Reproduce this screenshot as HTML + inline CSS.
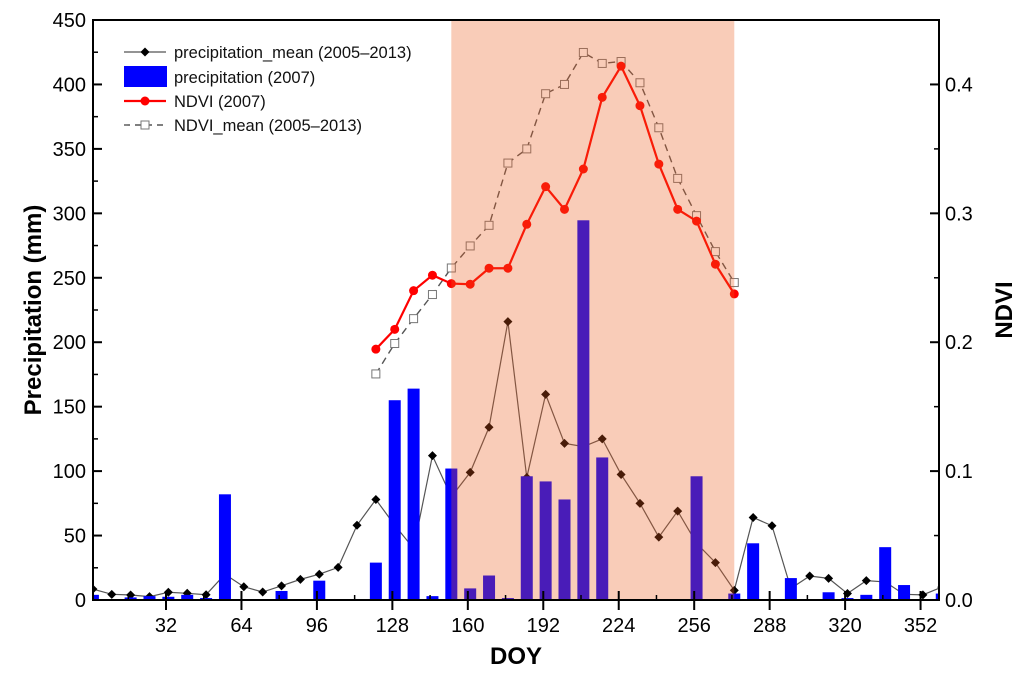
<!DOCTYPE html>
<html><head><meta charset="utf-8"><style>
body{margin:0;background:#fff}
svg{display:block;font-family:"Liberation Sans",sans-serif}
</style></head><body>
<svg id="chart" width="1024" height="678" viewBox="0 0 1024 678" xmlns="http://www.w3.org/2000/svg">
<g id="meanline"></g>
<g id="bars"></g>
<g id="lines"></g>
<rect id="shade" fill="rgba(236,90,26,0.31)"></rect>
<g id="axes"></g>
<g id="legend"></g>
</svg>
<script>
const doys = [1,9,17,25,33,41,49,57,65,73,81,89,97,105,113,121,129,137,145,153,161,169,177,185,193,201,209,217,225,233,241,249,257,265,273,281,289,297,305,313,321,329,337,345,353,361];
const precipMean = [8.5,4.4,3.9,2.6,6,5.2,4.1,20,10.3,6.2,11,16,20,25.3,58,78,58,40,112,80,99,134,216,95,159.5,121.5,119,125,97.4,75,48.8,69,44,29,7.5,64,57.6,9,18.6,16.8,5,15,14,4.4,4,10];
const precip2007 = [4,0,2,3,2.5,4,1.5,82,0,0,7,0,15,0,0,29,155,164,3,102,9,19,1.5,96,92,78,294.6,110.6,0,0,0,0,96,0,5,44,0,17,0,6,1.5,4,41,11.6,0,5];
const ndviDoys = [121,129,137,145,153,161,169,177,185,193,201,209,217,225,233,241,249,257,265,273];
const ndvi2007 = [0.1946,0.210,0.240,0.252,0.2455,0.245,0.2574,0.2574,0.2915,0.3207,0.3031,0.3344,0.390,0.4142,0.3835,0.3382,0.3031,0.294,0.2605,0.2375];
const ndviMean = [0.1754,0.199,0.2183,0.237,0.2576,0.2747,0.2907,0.339,0.350,0.3928,0.400,0.4248,0.4163,0.4178,0.4013,0.3664,0.3271,0.2982,0.2703,0.2463];
const xTicks = [32,64,96,128,160,192,224,256,288,320,352];
const yTicks = [0,50,100,150,200,250,300,350,400,450];
const y2Ticks = ["0.0","0.1","0.2","0.3","0.4"];
const shadeRange = [153,273];

const L=93,R=939,T=20,B=600;
const NS="http://www.w3.org/2000/svg";
const x = d => 166 + (d-32)*2.358;
const y = v => B - v*(B-T)/450;
const y2 = v => B - v*(B-T)/0.45;
function mk(tag, attrs, parent){const e=document.createElementNS(NS,tag);for(const k in attrs)e.setAttribute(k,attrs[k]);parent.appendChild(e);return e;}
const meanG=document.getElementById('meanline'), bars=document.getElementById('bars'), lines=document.getElementById('lines'), axes=document.getElementById('axes'), legend=document.getElementById('legend');
const clip=mk('clipPath',{id:'pc'},document.getElementById('chart'));
mk('rect',{x:L,y:T,width:R-L,height:B-T},clip);
meanG.setAttribute('clip-path','url(#pc)');
bars.setAttribute('clip-path','url(#pc)');
lines.setAttribute('clip-path','url(#pc)');

// precip mean line (behind bars)
const pm=mk('polyline',{points:doys.map((d,i)=>x(d)+','+y(precipMean[i])).join(' '),fill:'none',stroke:'#555',"stroke-width":1.2},meanG);


doys.forEach((d,i)=>{const cx=x(d),cy=y(precipMean[i]);
  const p=mk('polygon',{points:`${cx},${cy-4.5} ${cx+4.5},${cy} ${cx},${cy+4.5} ${cx-4.5},${cy}`,fill:'#000'},meanG);
  
  
});
precip2007.forEach((v,i)=>{ if(v<=0) return;
  const r=mk('rect',{x:x(doys[i])-6,y:y(v),width:12,height:B-y(v),fill:'#0000ff'},bars);
  
  
});
// NDVI mean dashed
const nm=mk('polyline',{points:ndviDoys.map((d,i)=>x(d)+','+y2(ndviMean[i])).join(' '),fill:'none',stroke:'#555',"stroke-width":1.4,"stroke-dasharray":"7,5"},lines);


ndviDoys.forEach((d,i)=>{
  const s=mk('rect',{x:x(d)-4,y:y2(ndviMean[i])-4,width:8,height:8,fill:'#fff',stroke:'#777',"stroke-width":1},lines);
  
  
});
// NDVI 2007
const n7=mk('polyline',{points:ndviDoys.map((d,i)=>x(d)+','+y2(ndvi2007[i])).join(' '),fill:'none',stroke:'#ff0000',"stroke-width":2.2},lines);


ndviDoys.forEach((d,i)=>{
  const c=mk('circle',{cx:x(d),cy:y2(ndvi2007[i]),r:4.5,fill:'#ff0000'},lines);
  
  
});
// shade
const sh=document.getElementById('shade');
sh.setAttribute('x',x(shadeRange[0]));sh.setAttribute('y',T);
sh.setAttribute('width',x(shadeRange[1])-x(shadeRange[0]));sh.setAttribute('height',B-T);

// axes frame
const fr=mk('rect',{x:L,y:T,width:R-L,height:B-T,fill:'none',stroke:'#000',"stroke-width":2},axes);


yTicks.forEach((v,i)=>{
  mk('line',{x1:L,x2:L+9,y1:y(v),y2:y(v),stroke:'#000',"stroke-width":2},axes);
  if(i<yTicks.length-1) mk('line',{x1:L,x2:L+5,y1:y(v+25),y2:y(v+25),stroke:'#000',"stroke-width":1.5},axes);
  const t=mk('text',{x:L-7,y:y(v)+7,"text-anchor":"end","font-size":20,fill:'#000'},axes);
  t.textContent=v;
  
  
});
y2Ticks.forEach((s,i)=>{const v=parseFloat(s);
  mk('line',{x1:R-9,x2:R,y1:y2(v),y2:y2(v),stroke:'#000',"stroke-width":2},axes);
  mk('line',{x1:R-5,x2:R,y1:y2(v+0.05),y2:y2(v+0.05),stroke:'#000',"stroke-width":1.5},axes);
  const t=mk('text',{x:R+6,y:y2(v)+7,"font-size":20,fill:'#000'},axes);
  t.textContent=s;
  
  
});
xTicks.forEach(d=>{
  mk('line',{x1:x(d),x2:x(d),y1:B-9,y2:B+10,stroke:'#000',"stroke-width":2},axes);
  if(d+16<360) mk('line',{x1:x(d+16),x2:x(d+16),y1:B-5,y2:B,stroke:'#000',"stroke-width":1.5},axes);
  const t=mk('text',{x:x(d),y:B+32,"text-anchor":"middle","font-size":20,fill:'#000'},axes);
  t.textContent=d;
  
  
});
mk('line',{x1:x(16),x2:x(16),y1:B-5,y2:B,stroke:'#000',"stroke-width":1.5},axes);
const xt=mk('text',{x:516,y:664,"text-anchor":"middle","font-size":24,"font-weight":"bold"},axes);
xt.textContent='DOY';
const yt=mk('text',{x:0,y:0,"text-anchor":"middle","font-size":24,"font-weight":"bold",transform:'translate(41,310) rotate(-90)'},axes);
yt.textContent='Precipitation (mm)';
const y2t=mk('text',{x:0,y:0,"text-anchor":"middle","font-size":24,"font-weight":"bold",transform:'translate(1012,310) rotate(-90)'},axes);
y2t.textContent='NDVI';

// legend
const lg=[
 {t:'precipitation_mean (2005–2013)',y:52},
 {t:'precipitation (2007)',y:77},
 {t:'NDVI (2007)',y:101},
 {t:'NDVI_mean (2005–2013)',y:125}];
mk('line',{x1:124,x2:166,y1:52,y2:52,stroke:'#555',"stroke-width":1.2},legend);
mk('polygon',{points:'145,47.5 149.5,52 145,56.5 140.5,52',fill:'#000'},legend);
mk('rect',{x:124,y:66,width:43,height:21,fill:'#0000ff'},legend);
mk('line',{x1:124,x2:166,y1:101,y2:101,stroke:'#ff0000',"stroke-width":2.2},legend);
mk('circle',{cx:145,cy:101,r:4.5,fill:'#ff0000'},legend);
mk('line',{x1:124,x2:166,y1:125,y2:125,stroke:'#555',"stroke-width":1.4,"stroke-dasharray":"6,5"},legend);
mk('rect',{x:141,y:121,width:8,height:8,fill:'#fff',stroke:'#777'},legend);
lg.forEach(e=>{const t=mk('text',{x:174,y:e.y+6,"font-size":16.5,fill:'#111'},legend);
  t.textContent=e.t;
  
  });
</script>
</body></html>
